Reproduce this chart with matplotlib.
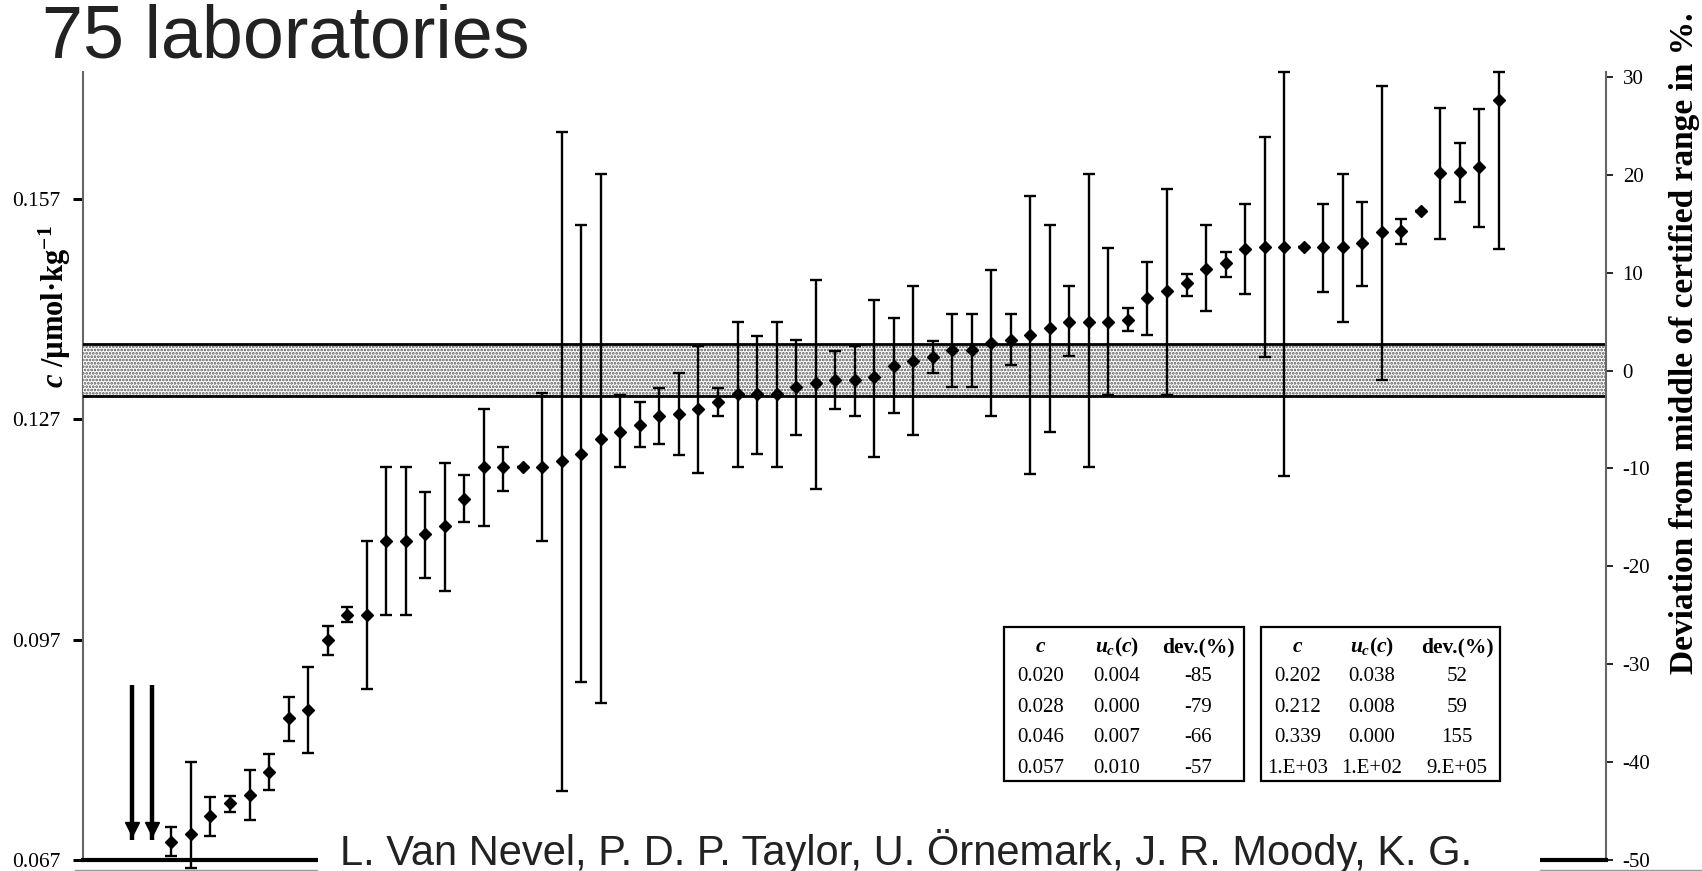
import numpy as np
import matplotlib
matplotlib.use("Agg")
import matplotlib.pyplot as plt
from matplotlib.patches import Rectangle
from matplotlib.lines import Line2D

plt.rcParams['axes.unicode_minus'] = False
plt.rcParams['mathtext.fontset'] = 'custom'
plt.rcParams['mathtext.rm'] = 'Liberation Serif:bold'
plt.rcParams['mathtext.it'] = 'Liberation Serif:italic:bold'
plt.rcParams['mathtext.bf'] = 'Liberation Serif:bold'
plt.rcParams['hatch.linewidth'] = 1.3

# deviation from middle of certified range (%), per laboratory, sorted
dev = [-46.8, -46.8, -48.2, -47.3, -45.5, -44.2, -43.4, -41.0, -35.5, -34.7,
       -27.5, -25.0, -25.0, -17.4, -17.4, -16.7, -15.9, -13.1, -9.9, -9.9,
       -9.9, -9.9, -9.2, -8.5, -7.0, -6.3, -5.6, -4.6, -4.4, -3.9,
       -3.2, -2.4, -2.4, -2.4, -1.7, -1.3, -1.0, -1.0, -0.7, 0.5,
       1.0, 1.4, 2.1, 2.1, 2.8, 3.1, 3.6, 4.3, 5.0, 5.0,
       5.0, 5.2, 7.4, 8.1, 8.9, 10.4, 11.0, 12.4, 12.6, 12.6,
       12.6, 12.6, 12.6, 13.0, 14.2, 14.3, 16.3, 20.2, 20.3, 20.8,
       27.6]
dev_hi = [-32.1, -32.1, -46.6, -40.0, -43.6, -43.5, -40.8, -39.2, -33.3, -30.3,
          -26.1, -24.2, -17.4, -9.9, -9.9, -12.4, -9.4, -10.7, -3.9, -7.8,
          -9.9, -2.3, 24.4, 14.9, 20.1, -2.5, -3.2, -1.8, -0.3, 2.5,
          -1.8, 5.0, 3.5, 5.0, 3.1, 9.3, 2.0, 2.5, 7.2, 5.4,
          8.6, 3.0, 5.8, 5.8, 10.3, 5.8, 17.8, 14.9, 8.6, 20.1,
          12.5, 6.4, 11.1, 18.5, 9.9, 14.9, 12.1, 17.0, 23.9, 30.5,
          12.6, 17.0, 20.1, 17.2, 29.1, 15.5, 16.3, 26.8, 23.2, 26.7,
          30.5]
dev_lo = [-48.0, -48.0, -49.6, -50.8, -47.5, -45.1, -45.9, -42.8, -37.8, -39.1,
          -29.1, -25.7, -32.5, -25.0, -25.0, -21.2, -22.5, -15.5, -15.9, -12.3,
          -9.9, -17.4, -43.0, -31.8, -34.0, -9.9, -7.8, -7.5, -8.6, -10.5,
          -4.6, -9.9, -8.5, -9.9, -6.6, -12.1, -3.9, -4.6, -8.8, -4.3,
          -6.6, -0.2, -1.7, -1.7, -4.6, 0.6, -10.6, -6.3, 1.5, -9.9,
          -2.5, 4.0, 3.6, -2.5, 7.6, 6.1, 9.6, 7.8, 1.4, -10.8,
          12.6, 8.0, 5.0, 8.6, -1.0, 12.9, 16.3, 13.4, 17.2, 14.7,
          12.4]
labs = np.arange(1, len(dev) + 1)

band_lo, band_hi = -2.65, 2.75      # certified range (%)
pct_ticks = [-50, -40, -30, -20, -10, 0, 10, 20, 30]
c_ticks = [0.067, 0.097, 0.127, 0.157]
c_at_m50, c_per_pct = 0.067, 0.001333

table_cols = ['$c$', '$u_c(c)$', 'dev.(%)']
low_c = ['0.020', '0.028', '0.046', '0.057']
low_u = ['0.004', '0.000', '0.007', '0.010']
low_dev = ['-85', '-79', '-66', '-57']
high_c = ['0.202', '0.212', '0.339', '1.E+03']
high_u = ['0.038', '0.008', '0.000', '1.E+02']
high_dev = ['52', '59', '155', '9.E+05']

W, H = 1702, 871
fig = plt.figure(figsize=(W / 100, H / 100), dpi=100)


def fx(px):
    return px / W


def fy(py):
    return 1 - py / H


ax = fig.add_axes([fx(83), fy(860), fx(1606) - fx(83), fy(72) - fy(860)])
ax.set_xlim(-1.53, 76.49)
ax.set_ylim(-50, 30.5)

# certified range band
ax.axhspan(band_lo, band_hi, facecolor='white', edgecolor='#555555',
           hatch='.....', lw=0, zorder=1)
ax.axhline(band_hi, color='black', lw=2, zorder=2)
ax.axhline(band_lo, color='black', lw=2, zorder=2)

dev_a = np.array(dev)
yerr = [dev_a - np.array(dev_lo), np.array(dev_hi) - dev_a]
heavy = [0, 1]
light = [i for i in range(len(dev)) if i not in heavy]
ax.errorbar(labs[light], dev_a[light], yerr=[yerr[0][light], yerr[1][light]],
            fmt='D', color='black', ms=6.5, lw=1.7, capsize=4.5, capthick=1.7,
            clip_on=False, zorder=3)
ax.errorbar(labs[heavy], dev_a[heavy], yerr=[yerr[0][heavy], yerr[1][heavy]],
            fmt='v', color='black', ms=10, lw=3.2, capsize=0,
            clip_on=False, zorder=3)

ax.set_xticks([])
ax.yaxis.tick_right()
ax.set_yticks(pct_ticks)
ax.set_yticklabels([str(v) for v in pct_ticks], family='Liberation Serif', fontsize=15)
ax.tick_params(axis='y', length=5, width=1.2, pad=7, colors='black')
for s in ['top', 'left']:
    ax.spines[s].set_visible(False)
ax.spines['right'].set_color('#666')
ax.spines['right'].set_linewidth(1.5)
ax.spines['bottom'].set_color('black')
ax.spines['bottom'].set_linewidth(3)

sec = ax.secondary_yaxis('left', functions=(lambda d: c_at_m50 + (d + 50) * c_per_pct,
                                            lambda c: (c - c_at_m50) / c_per_pct - 50))
sec.set_yticks(c_ticks)
sec.set_yticklabels([f"{v:.3f}" for v in c_ticks], family='Liberation Serif', fontsize=15.5)
sec.tick_params(length=7, width=2.2, pad=9)
sec.spines['left'].set_color('#666')
sec.spines['left'].set_linewidth(1.5)

# axis labels
fig.text(fx(55), fy(307), '$c$ /µmol·kg$^{-1}$', rotation=90, ha='center', va='center',
         family='Liberation Serif', fontweight='bold', fontsize=22)
fig.text(fx(1684), fy(343), 'Deviation from middle of certified range in %.', rotation=90,
         ha='center', va='center', family='Liberation Serif', fontweight='bold', fontsize=24)

# tables of off-scale results
for x0, x1, cols, rows in [(1004, 1244, [1041, 1117, 1198], (low_c, low_u, low_dev)),
                           (1261, 1500, [1298, 1372, 1457], (high_c, high_u, high_dev))]:
    fig.add_artist(Rectangle((fx(x0), fy(781)), fx(x1) - fx(x0), fy(627) - fy(781),
                             transform=fig.transFigure, facecolor='white',
                             edgecolor='black', lw=1.6, zorder=4))
    for cx, head, vals in zip(cols, table_cols, rows):
        fig.text(fx(cx), fy(647), head, ha='center', va='center', family='Liberation Serif',
                 fontweight='bold', fontsize=15.5, zorder=5)
        for ry, v in zip([676, 707, 738, 768], vals):
            fig.text(fx(cx), fy(ry), v, ha='center', va='center', family='Liberation Serif',
                     fontsize=15, zorder=5)

# slide overlay: title and citation
fig.text(fx(42), fy(57), '75 laboratories', ha='left', va='baseline',
         family='Liberation Sans', fontsize=53, color='#222')
fig.add_artist(Rectangle((fx(318), 0), fx(1540) - fx(318), fy(823),
                         transform=fig.transFigure, facecolor='white', lw=0, zorder=6))
fig.text(fx(340), fy(865), 'L. Van Nevel, P. D. P. Taylor, U. Örnemark, J. R. Moody, K. G.',
         ha='left', va='baseline', family='Liberation Sans', fontsize=30, color='#222', zorder=7)
fig.add_artist(Line2D([fx(75), 1], [fy(869.5), fy(869.5)], transform=fig.transFigure,
                      color='#999', lw=1, zorder=5))

fig.savefig('out.png', dpi=100)
